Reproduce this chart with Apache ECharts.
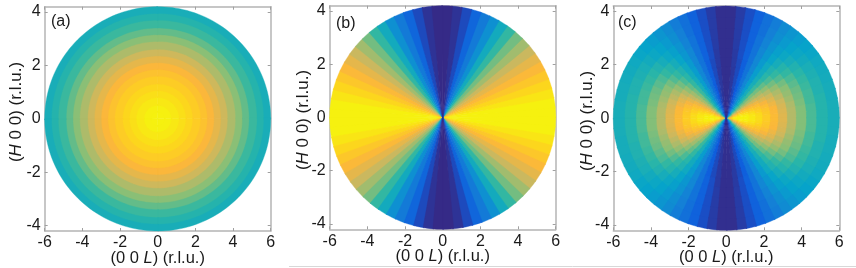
<!DOCTYPE html>
<html><head><meta charset="utf-8">
<style>html,body{margin:0;padding:0;background:#fff}#c{width:856px;height:268px;filter:blur(0.7px)}</style>
<script src="https://cdn.jsdelivr.net/npm/echarts@6/dist/echarts.min.js"></script>
</head><body><div id="c"></div>
<script>
// Colour scale
const colourScale = ['#352A87','#0F5CDD','#1481D6','#06A4CA','#2EB7A4','#87BF77','#C8B860','#FBB63C','#FDD020','#F6F10F'];
// Axis ticks
const xTicks = [-6,-4,-2,0,2,4,6];
const yTicks = [-4,-2,0,2,4];
const xRange = 6, yRange = 4.2;
const panelLabels = ['(a)','(b)','(c)'];
// Panel (a): intensity per ring, centre to rim
const aRingEdges = [0,.06,.12,.19,.25,.31,.38,.44,.5,.56,.62,.69,.75,.81,.88,.94,1];
const aRingValues = [1,.995,.97,.94,.91,.87,.83,.78,.73,.68,.62,.56,.51,.46,.42,.385];
// Panel (b): intensity per wedge, from the L axis (0 deg) to the H axis (90 deg)
const bWedgeEdges = [0,5,10,15,20,25,30,35,40,45,50,55,60,65,70,75,80,85,90];
const bWedgeValues = [1,1,.96,.91,.85,.79,.73,.67,.6,.53,.45,.37,.27,.2,.14,.07,.02,0];
// Panel (c): intensity per wedge (rows) and ring (columns)
const cWedgeEdges = [0,5,10,15,20,25,30,35,40,45,50,55,60,65,70,75,80,85,90];
const cRingEdges = [0,.05,.1,.15,.2,.26,.32,.39,.46,.54,.62,.71,.8,.9,1];
const cValues = [
 [.9,1,1,1,.97,.93,.87,.8,.72,.63,.55,.48,.42,.385],
 [.85,.98,1,.99,.96,.92,.86,.79,.71,.63,.55,.48,.42,.385],
 [.78,.92,.96,.95,.93,.89,.84,.78,.7,.62,.54,.47,.42,.38],
 [.72,.85,.9,.9,.88,.85,.81,.75,.68,.6,.53,.47,.41,.38],
 [.66,.78,.83,.84,.83,.81,.77,.72,.65,.58,.52,.46,.41,.375],
 [.6,.7,.75,.77,.76,.75,.72,.68,.62,.56,.5,.45,.4,.37],
 [.53,.62,.67,.69,.69,.68,.66,.63,.58,.53,.48,.43,.39,.36],
 [.46,.54,.58,.6,.61,.61,.6,.57,.53,.49,.45,.41,.37,.345],
 [.39,.46,.5,.52,.53,.54,.53,.51,.48,.45,.42,.38,.35,.33],
 [.33,.39,.42,.44,.45,.46,.46,.45,.43,.41,.38,.35,.33,.31],
 [.27,.32,.35,.37,.38,.38,.39,.38,.37,.36,.34,.32,.3,.285],
 [.21,.25,.28,.29,.3,.31,.31,.31,.31,.3,.29,.28,.265,.255],
 [.16,.19,.21,.22,.23,.24,.24,.24,.24,.24,.24,.23,.22,.21],
 [.11,.13,.15,.16,.17,.17,.18,.18,.18,.18,.18,.18,.17,.17],
 [.07,.09,.1,.1,.11,.11,.12,.12,.12,.13,.13,.13,.13,.13],
 [.04,.05,.05,.06,.06,.07,.07,.07,.07,.08,.08,.08,.08,.08],
 [.015,.02,.02,.025,.025,.03,.03,.03,.035,.035,.04,.04,.04,.04],
 [.005,.005,.005,.01,.01,.01,.01,.01,.01,.01,.01,.01,.01,.01]
];

// [angle from, angle to, radius from, radius to, value], mirrored into four quadrants
function cells(wedges, rings, valueAt){
  const out = [];
  for (let w = 0; w < wedges.length-1; w++) for (let r = 0; r < rings.length-1; r++) {
    const t0 = wedges[w], t1 = wedges[w+1], v = valueAt(w,r);
    [[t0,t1],[180-t1,180-t0],[180+t0,180+t1],[360-t1,360-t0]].forEach(p =>
      out.push([p[0],p[1],rings[r],rings[r+1],v]));
  }
  return out;
}
const aData = cells([0,90], aRingEdges, (w,r)=>aRingValues[r]);
const bData = cells(bWedgeEdges, [0,1], (w,r)=>bWedgeValues[w]);
const cData = cells(cWedgeEdges, cRingEdges, (w,r)=>cValues[w][r]);

// Cells overlap their neighbours by a hair so no antialiased seams show through.
function renderCell(params, api){
  const t0 = api.value(0), t1 = api.value(1)+0.6, r0 = api.value(2), r1 = Math.min(1, api.value(3)+0.008);
  const steps = Math.max(1, Math.ceil((t1-t0)/2));
  const at = (t,r)=>api.coord([xRange*r*Math.cos(t*Math.PI/180), yRange*r*Math.sin(t*Math.PI/180)]);
  const pts = [];
  for (let i = 0; i <= steps; i++) pts.push(at(t0+(t1-t0)*i/steps, r1));
  for (let i = steps; i >= 0; i--) pts.push(at(t0+(t1-t0)*i/steps, r0));
  const col = api.visual('color');
  return {type:'polygon', shape:{points:pts}, style:{fill:col, stroke:col, lineWidth:0.4}};
}

const frames = [
 {left:44.7, right:270.7, top:6.7, bottom:231, tx:16, ty:112, lx:51, ly:23},
 {left:329.7,right:555.7, top:5.7, bottom:229.3, tx:303, ty:120, lx:336, ly:25},
 {left:613.3,right:839.3, top:6, bottom:230.3, tx:587, ty:121, lx:618, ly:24}
];
const font = 'Liberation Sans, Arial, sans-serif';
const frameCol = '#b4b4b4';
const grid=[], xAxis=[], yAxis=[], series=[], graphic=[];
const richTitle = {i:{fontStyle:'italic',fontFamily:font,fontSize:16.5,color:'#1a1a1a'}};
[aData,bData,cData].forEach((data,k)=>{
  const f = frames[k];
  grid.push({left:f.left, top:f.top, width:f.right-f.left, height:f.bottom-f.top, show:false, outerBoundsMode:'none'});
  const tick = {show:true, inside:true, length:3, lineStyle:{color:'#a0a0a0',width:1}};
  const line = {show:true, onZero:false, lineStyle:{color:frameCol,width:1.5}};
  xAxis.push({gridIndex:k, type:'value', min:-xRange, max:xRange, position:'bottom',
    axisLine:line, splitLine:{show:false},
    axisTick:Object.assign({customValues:xTicks},tick),
    axisLabel:{customValues:xTicks, margin:4, fontFamily:font, fontSize:16, color:'#1a1a1a', showMinLabel:true, showMaxLabel:true},
    name:'(0 0 {i|L}) (r.l.u.)', nameLocation:'middle', nameGap:27, nameMoveOverlap:false,
    nameTextStyle:{fontFamily:font,fontSize:16.5,color:'#1a1a1a',rich:richTitle,verticalAlign:'middle'}});
  yAxis.push({gridIndex:k, type:'value', min:-yRange, max:yRange, position:'left',
    axisLine:line, splitLine:{show:false},
    axisTick:Object.assign({customValues:yTicks},tick),
    axisLabel:{customValues:yTicks, margin:4, fontFamily:font, fontSize:16, color:'#1a1a1a'}});
  series.push({type:'custom', xAxisIndex:k, yAxisIndex:k, data:data, renderItem:renderCell,
    dimensions:['t0','t1','r0','r1','v'], encode:{tooltip:4}, clip:false, silent:true, z:1});
  graphic.push({type:'text', left:f.lx, top:f.ly-9, z:10,
    style:{text:panelLabels[k], font:'16px '+font, fill:'#1a1a1a'}});
  graphic.push({type:'text', x:f.tx, y:f.ty, rotation:Math.PI/2, z:10,
    style:{text:'({i|H} 0 0) (r.l.u.)', font:'17px '+font, fill:'#1a1a1a', align:'center', verticalAlign:'middle',
      rich:{i:{fontStyle:'italic',fontFamily:font,fontSize:17,fill:'#1a1a1a'}}}});
});
// mirror axes: top and right frame edges with their ticks
frames.forEach((f,k)=>{
  const tick = {show:true, inside:true, length:3, lineStyle:{color:'#a0a0a0',width:1}};
  const line = {show:true, onZero:false, lineStyle:{color:frameCol,width:1.5}};
  xAxis.push({gridIndex:k, type:'value', min:-xRange, max:xRange, position:'top',
    axisLine:line, splitLine:{show:false}, axisLabel:{show:false},
    axisTick:Object.assign({customValues:xTicks},tick)});
  yAxis.push({gridIndex:k, type:'value', min:-yRange, max:yRange, position:'right',
    axisLine:line, splitLine:{show:false}, axisLabel:{show:false},
    axisTick:Object.assign({customValues:yTicks},tick)});
});
graphic.push({type:'line', shape:{x1:289,y1:266.5,x2:856,y2:266.5}, style:{stroke:'#d8d8d8',lineWidth:1}});

const chart = echarts.init(document.getElementById('c'), null, {renderer:'canvas'});
chart.setOption({
  animation:false, backgroundColor:'#fff', grid, xAxis, yAxis, series, graphic,
  visualMap:{type:'continuous', show:false, min:0, max:1, dimension:4, seriesIndex:[0,1,2],
    inRange:{color:colourScale}}
});
</script></body></html>
